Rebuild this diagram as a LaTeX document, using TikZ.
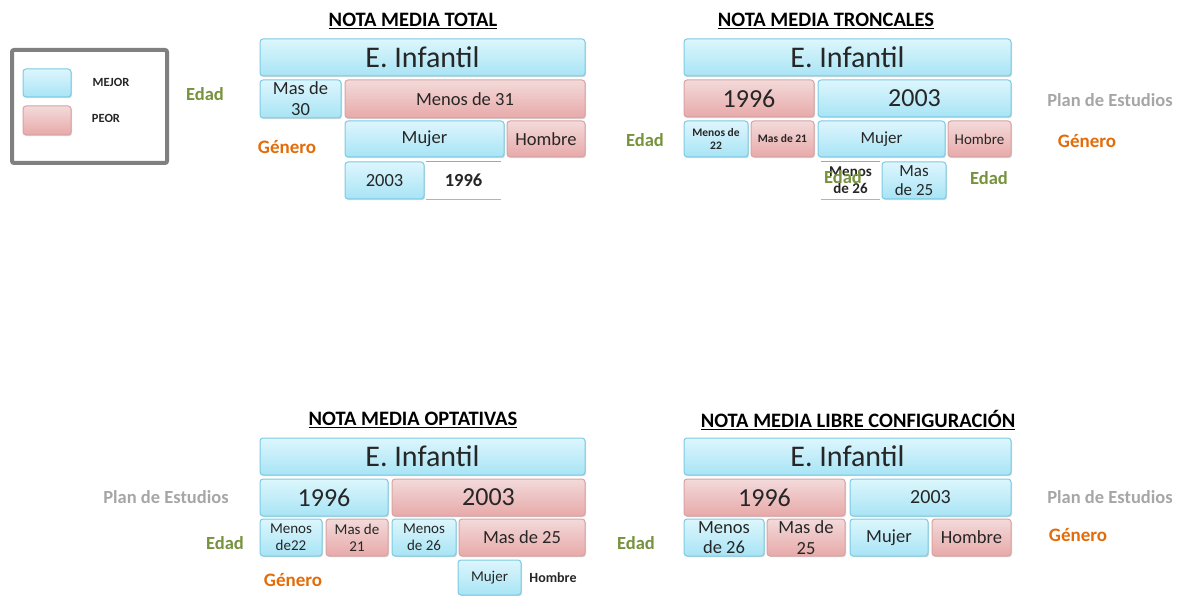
\documentclass[tikz,border=0pt]{standalone}
\usepackage{fontspec}
\setmainfont{Carlito}
\usetikzlibrary{shadows}
\definecolor{bluetop}{HTML}{DDF6FD}
\definecolor{bluebot}{HTML}{A8E4F5}
\definecolor{blueline}{HTML}{7CCBE3}
\definecolor{redtop}{HTML}{F3DADA}
\definecolor{redbot}{HTML}{E8A9A9}
\definecolor{redline}{HTML}{D7A3A3}
\definecolor{boxtext}{HTML}{262626}
\definecolor{edadgreen}{HTML}{76923C}
\definecolor{genorange}{HTML}{E36C0A}
\definecolor{plangray}{HTML}{A6A6A6}
\definecolor{legendgray}{HTML}{808080}
\newcommand{\fsz}[1]{\fontsize{#1}{\fpeval{#1*1.12}}\selectfont}
\newcommand{\cell}[7]{%
  \pgfmathsetmacro\cw{#5-#3}\pgfmathsetmacro\ch{#6-#4}%
  \pgfmathsetmacro\cx{(#3+#5)/2}\pgfmathsetmacro\cy{(#4+#6)/2}%
  \node[#2,minimum width=\cw pt,minimum height=\ch pt] (#1) at (\cx,\cy) {#7};}
\tikzset{
  box/.style={rounded corners=3pt, inner sep=0pt, align=center, text=boxtext,
    drop shadow={shadow xshift=1pt, shadow yshift=-1.2pt, opacity=0.3}},
  best/.style={box, draw=blueline, line width=1pt, top color=bluetop, bottom color=bluebot},
  worst/.style={box, draw=redline, line width=1pt, top color=redtop, bottom color=redbot},
  blank/.style={inner sep=0pt, align=center, fill=white, text=boxtext},
  ttl/.style={font=\bfseries\fsz{20.5}, text=black},
  edad/.style={font=\bfseries\fsz{18.5}, text=edadgreen},
  genero/.style={font=\bfseries\fsz{19}, text=genorange},
  plan/.style={font=\bfseries\fsz{18.5}, text=plangray},
  legendtext/.style={font=\bfseries\fsz{12.5}, text=boxtext},
  frame/.style={draw=legendgray, line width=4pt, rounded corners=2pt, fill=white},
  big/.style={font=\fsz{30}},
  mid/.style={font=\fsz{26}},
  std/.style={font=\fsz{18.5}},
  med/.style={font=\fsz{17}},
  sml/.style={font=\fsz{15}},
  tiny/.style={font=\bfseries\fsz{11.5}},
  topline/.style={draw=legendgray!70, line width=1pt},
  botline/.style={draw=redline, line width=1pt},
}
\begin{document}
\begin{tikzpicture}[x=1pt,y=-1pt]
\useasboundingbox (0,0) rectangle (1184,596);
% legend
\cell{legend}{frame}{12}{50}{167}{163}{}
\cell{lbest}{best}{23}{69}{71}{97}{}
\cell{lworst}{worst}{23}{106}{71}{135}{}
\node[legendtext] (lmejor) at (111,82) {MEJOR};
\node[legendtext] (lpeor) at (106,118) {PEOR};

% panel 1
\node[ttl] (t1) at (413,21) {\underline{NOTA MEDIA TOTAL}};
\cell{a1}{best,big}{260}{39}{585}{76}{E. Infantil}
\cell{a2}{best,std}{260}{80}{341}{118}{Mas de\\30}
\cell{a3}{worst,std}{345}{80}{585}{118}{Menos de 31}
\cell{a4}{best,std}{345}{121}{504}{157}{Mujer}
\cell{a5}{worst,std}{507}{121}{585}{157}{Hombre}
\cell{a6}{best,std}{345}{162}{424}{199}{2003}
\cell{a7}{blank,std}{426}{162}{501}{199}{\bfseries 1996}
\draw[topline] (a7.north west) -- (a7.north east);
\draw[botline] (a7.south west) -- (a7.south east);
\node[edad] (e1) at (205,94) {Edad};
\node[genero] (g1) at (287,147) {Género};

% panel 2
\node[ttl] (t2) at (826,21) {\underline{NOTA MEDIA TRONCALES}};
\cell{b1}{best,big}{684}{39}{1011}{76}{E. Infantil}
\cell{b2}{worst,mid}{684}{80}{814}{117}{1996}
\cell{b3}{best,mid}{818}{80}{1011}{117}{2003}
\cell{b4}{best,tiny}{684}{121}{748}{157}{Menos de\\22}
\cell{b5}{worst,tiny}{751}{121}{814}{157}{Mas de 21}
\cell{b6}{best,med}{818}{121}{945}{157}{Mujer}
\cell{b7}{worst,sml}{948}{121}{1011}{157}{Hombre}
\cell{b8}{blank,sml}{821}{162}{880}{199}{\bfseries Menos\\\bfseries de 26}
\draw[topline] (b8.north west) -- (b8.north east);
\draw[botline] (b8.south west) -- (b8.south east);
\cell{b9}{best,med}{882}{162}{946}{199}{Mas\\de 25}
\node[edad] (e2a) at (843,177) {Edad};
\node[edad] (e2) at (645,140) {Edad};
\node[plan] (p2) at (1110,100) {Plan de Estudios};
\node[genero] (g2) at (1087,141) {Género};
\node[edad] (e2b) at (989,178) {Edad};

% panel 3
\node[ttl] (t3) at (413,420) {\underline{NOTA MEDIA OPTATIVAS}};
\cell{c1}{best,big}{260}{438}{585}{475}{E. Infantil}
\cell{c2}{best,mid}{260}{479}{388}{516}{1996}
\cell{c3}{worst,mid}{392}{479}{585}{516}{2003}
\cell{c4}{best,sml}{260}{519}{322}{556}{Menos\\de22}
\cell{c5}{worst,sml}{326}{519}{388}{556}{Mas de\\21}
\cell{c6}{best,sml}{392}{519}{456}{556}{Menos\\de 26}
\cell{c7}{worst,std}{459}{519}{585}{556}{Mas de 25}
\cell{c8}{best,sml}{458}{560}{521}{595}{Mujer}
\node[font=\bfseries\fsz{14}, text=boxtext] (c9) at (553,578) {Hombre};
\node[plan] (p3) at (166,497) {Plan de Estudios};
\node[edad] (e3) at (225,543) {Edad};
\node[genero] (g3) at (293,580) {Género};

% panel 4
\node[ttl] (t4) at (858,420) {\underline{NOTA MEDIA LIBRE CONFIGURACIÓN}};
\cell{d1}{best,big}{684}{438}{1011}{475}{E. Infantil}
\cell{d2}{worst,mid}{684}{479}{845}{516}{1996}
\cell{d3}{best,font=\fsz{20}}{850}{479}{1011}{516}{2003}
\cell{d4}{best,std}{684}{519}{764}{556}{Menos\\de 26}
\cell{d5}{worst,std}{767}{519}{845}{556}{Mas de\\25}
\cell{d6}{best,std}{850}{519}{928}{556}{Mujer}
\cell{d7}{worst,std}{932}{519}{1011}{556}{Hombre}
\node[edad] (e4) at (636,543) {Edad};
\node[plan] (p4) at (1110,497) {Plan de Estudios};
\node[genero] (g4) at (1078,535) {Género};
\end{tikzpicture}
\end{document}
